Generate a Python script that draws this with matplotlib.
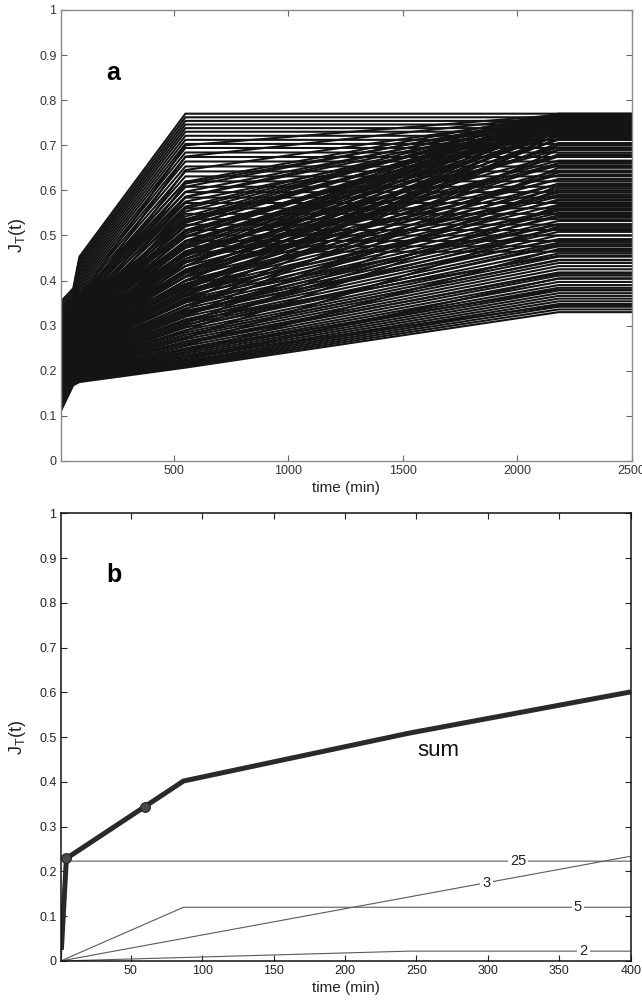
import matplotlib
matplotlib.use("Agg")
import matplotlib.pyplot as plt

plt.rcParams['font.family'] = ['Liberation Sans', 'DejaVu Sans']
plt.rcParams['mathtext.fontset'] = 'custom'
plt.rcParams['mathtext.rm'] = 'Liberation Sans'
plt.rcParams['mathtext.it'] = 'Liberation Sans:italic'

# ---------------- Panel a data ----------------
t_breaks = [5, 60, 87, 550, 2180, 2500]

# family A: saturate by 550 min
a_j5 = [0.353, 0.347, 0.341, 0.335, 0.329, 0.323, 0.317, 0.311, 0.305, 0.299, 0.293, 0.287, 0.281, 0.275, 0.269,
        0.263, 0.257, 0.251, 0.245, 0.239, 0.233, 0.227, 0.221, 0.215, 0.209, 0.203, 0.197, 0.191, 0.185, 0.179]
a_j60 = [0.383, 0.378, 0.372, 0.367, 0.362, 0.356, 0.351, 0.346, 0.340, 0.335, 0.330, 0.325, 0.320, 0.315, 0.310,
         0.305, 0.300, 0.295, 0.290, 0.285, 0.280, 0.275, 0.270, 0.265, 0.260, 0.255, 0.250, 0.246, 0.242, 0.238]
a_j87 = [0.453, 0.447, 0.441, 0.436, 0.430, 0.424, 0.418, 0.412, 0.406, 0.400, 0.394, 0.388, 0.382, 0.376, 0.370,
         0.364, 0.358, 0.352, 0.346, 0.340, 0.334, 0.328, 0.322, 0.316, 0.310, 0.304, 0.298, 0.292, 0.286, 0.280]
a_j550 = [0.770, 0.762, 0.754, 0.746, 0.738, 0.730, 0.721, 0.712, 0.703, 0.694, 0.684, 0.674, 0.664, 0.653, 0.642,
          0.631, 0.620, 0.608, 0.596, 0.584, 0.572, 0.560, 0.548, 0.536, 0.524, 0.512, 0.500, 0.488, 0.476, 0.464]
a_j2180 = [0.770, 0.762, 0.754, 0.746, 0.738, 0.730, 0.721, 0.712, 0.703, 0.694, 0.684, 0.674, 0.664, 0.653, 0.642,
           0.631, 0.620, 0.608, 0.596, 0.584, 0.572, 0.560, 0.548, 0.536, 0.524, 0.512, 0.500, 0.488, 0.476, 0.464]

# family B: climb to the ceiling at 2180 min
b_j5 = [0.330, 0.318, 0.300, 0.285, 0.270, 0.255, 0.240, 0.228, 0.215, 0.200, 0.190, 0.175, 0.160, 0.150]
b_j60 = [0.340, 0.328, 0.315, 0.300, 0.285, 0.270, 0.257, 0.250, 0.244, 0.238, 0.232, 0.226, 0.220, 0.214]
b_j87 = [0.360, 0.345, 0.330, 0.315, 0.300, 0.292, 0.284, 0.276, 0.268, 0.260, 0.252, 0.245, 0.238, 0.230]
b_j550 = [0.700, 0.675, 0.645, 0.615, 0.585, 0.560, 0.535, 0.510, 0.485, 0.460, 0.440, 0.420, 0.400, 0.380]
b_j2180 = [0.767, 0.765, 0.763, 0.760, 0.757, 0.754, 0.750, 0.746, 0.742, 0.738, 0.733, 0.728, 0.722, 0.716]

# family C: slow rise until 2180 min
c_j5 = [0.110, 0.125, 0.140, 0.155, 0.150, 0.165, 0.160, 0.175, 0.170, 0.180, 0.175, 0.185, 0.180, 0.190, 0.185,
        0.195, 0.190, 0.200, 0.195, 0.205, 0.200, 0.210, 0.205, 0.215, 0.210, 0.220, 0.215, 0.225, 0.220, 0.230,
        0.225, 0.235, 0.230, 0.240, 0.235, 0.245, 0.240, 0.250, 0.245, 0.255, 0.250, 0.260, 0.255, 0.265, 0.260, 0.270]
c_j60 = [0.168, 0.170, 0.172, 0.174, 0.176, 0.178, 0.180, 0.182, 0.184, 0.186, 0.188, 0.190, 0.192, 0.194, 0.196,
         0.198, 0.200, 0.202, 0.204, 0.206, 0.208, 0.211, 0.214, 0.217, 0.220, 0.223, 0.226, 0.229, 0.232, 0.235,
         0.238, 0.241, 0.244, 0.247, 0.250, 0.253, 0.256, 0.259, 0.262, 0.265, 0.268, 0.271, 0.274, 0.277, 0.280, 0.283]
c_j87 = [0.175, 0.177, 0.179, 0.181, 0.183, 0.185, 0.187, 0.189, 0.191, 0.193, 0.195, 0.197, 0.199, 0.201, 0.203,
         0.205, 0.207, 0.209, 0.211, 0.213, 0.215, 0.218, 0.221, 0.224, 0.227, 0.230, 0.233, 0.236, 0.239, 0.242,
         0.245, 0.248, 0.251, 0.254, 0.257, 0.260, 0.263, 0.266, 0.269, 0.272, 0.275, 0.278, 0.281, 0.284, 0.287, 0.290]
c_j550 = [0.207, 0.210, 0.213, 0.216, 0.219, 0.222, 0.226, 0.230, 0.234, 0.238, 0.242, 0.246, 0.250, 0.255, 0.260,
          0.265, 0.270, 0.275, 0.280, 0.285, 0.290, 0.296, 0.302, 0.308, 0.314, 0.320, 0.326, 0.332, 0.338, 0.344,
          0.351, 0.358, 0.365, 0.372, 0.379, 0.386, 0.393, 0.400, 0.408, 0.416, 0.424, 0.432, 0.440, 0.448, 0.456, 0.464]
c_j2180 = [0.330, 0.336, 0.342, 0.348, 0.354, 0.360, 0.366, 0.372, 0.378, 0.384, 0.390, 0.397, 0.404, 0.411, 0.418,
           0.425, 0.432, 0.439, 0.446, 0.453, 0.460, 0.468, 0.476, 0.484, 0.492, 0.500, 0.508, 0.516, 0.524, 0.532,
           0.541, 0.550, 0.559, 0.568, 0.577, 0.586, 0.595, 0.604, 0.614, 0.624, 0.634, 0.644, 0.655, 0.666, 0.678, 0.690]

# family D: crossing lines with mixed late growth
d_j5 = [0.120, 0.166, 0.130, 0.174, 0.140, 0.182, 0.150, 0.190, 0.160, 0.198, 0.170, 0.206, 0.180, 0.214, 0.190,
        0.222, 0.200, 0.230, 0.210, 0.238, 0.220, 0.246, 0.230, 0.254, 0.240, 0.262, 0.250, 0.270, 0.260, 0.278,
        0.270, 0.286, 0.280, 0.294, 0.290, 0.302, 0.300, 0.310, 0.310, 0.318]
d_j60 = [0.172, 0.176, 0.180, 0.184, 0.188, 0.192, 0.196, 0.200, 0.204, 0.208, 0.212, 0.216, 0.220, 0.224, 0.228,
         0.232, 0.236, 0.240, 0.244, 0.248, 0.252, 0.256, 0.260, 0.264, 0.268, 0.272, 0.276, 0.280, 0.284, 0.288,
         0.292, 0.296, 0.300, 0.304, 0.308, 0.312, 0.316, 0.320, 0.324, 0.328]
d_j87 = [0.180, 0.184, 0.188, 0.192, 0.196, 0.200, 0.204, 0.208, 0.212, 0.216, 0.220, 0.224, 0.228, 0.232, 0.236,
         0.240, 0.244, 0.248, 0.252, 0.256, 0.260, 0.264, 0.268, 0.272, 0.276, 0.280, 0.284, 0.288, 0.292, 0.296,
         0.300, 0.304, 0.308, 0.312, 0.316, 0.320, 0.324, 0.328, 0.332, 0.336]
d_j550 = [0.225, 0.232, 0.240, 0.248, 0.256, 0.264, 0.272, 0.280, 0.288, 0.296, 0.304, 0.312, 0.320, 0.328, 0.336,
          0.344, 0.352, 0.360, 0.368, 0.376, 0.384, 0.392, 0.400, 0.408, 0.416, 0.424, 0.432, 0.440, 0.448, 0.456,
          0.464, 0.472, 0.480, 0.488, 0.496, 0.504, 0.512, 0.520, 0.528, 0.536]
d_j2180 = [0.405, 0.345, 0.470, 0.380, 0.520, 0.415, 0.565, 0.445, 0.610, 0.480, 0.650, 0.515, 0.690, 0.545, 0.725,
           0.580, 0.745, 0.615, 0.760, 0.640, 0.705, 0.660, 0.735, 0.675, 0.752, 0.700, 0.762, 0.712, 0.766, 0.730,
           0.755, 0.742, 0.768, 0.748, 0.758, 0.763, 0.740, 0.766, 0.756, 0.769]

# family E: mid-level lines still rising after 550 min
e_j5 = [0.140, 0.200, 0.150, 0.210, 0.160, 0.220, 0.170, 0.230, 0.180, 0.240, 0.190, 0.250, 0.200, 0.260, 0.210,
        0.270, 0.220, 0.280, 0.230, 0.290, 0.240, 0.300, 0.250, 0.305, 0.260, 0.320, 0.270, 0.330, 0.280, 0.340]
e_j60 = [0.210, 0.215, 0.220, 0.225, 0.230, 0.235, 0.240, 0.245, 0.250, 0.255, 0.260, 0.265, 0.270, 0.275, 0.280,
         0.285, 0.290, 0.295, 0.300, 0.305, 0.310, 0.315, 0.320, 0.325, 0.330, 0.335, 0.340, 0.345, 0.350, 0.355]
e_j87 = [0.220, 0.225, 0.230, 0.235, 0.240, 0.245, 0.250, 0.255, 0.260, 0.265, 0.270, 0.275, 0.280, 0.285, 0.290,
         0.295, 0.300, 0.305, 0.310, 0.315, 0.320, 0.325, 0.330, 0.335, 0.340, 0.345, 0.350, 0.355, 0.360, 0.365]
e_j550 = [0.300, 0.311, 0.322, 0.333, 0.344, 0.355, 0.366, 0.377, 0.388, 0.399, 0.410, 0.421, 0.432, 0.443, 0.454,
          0.465, 0.476, 0.487, 0.498, 0.509, 0.520, 0.531, 0.542, 0.553, 0.564, 0.575, 0.586, 0.597, 0.608, 0.619]
e_j2180 = [0.560, 0.455, 0.600, 0.490, 0.640, 0.525, 0.680, 0.555, 0.715, 0.590, 0.740, 0.625, 0.758, 0.660, 0.765,
           0.695, 0.750, 0.720, 0.767, 0.735, 0.761, 0.748, 0.769, 0.755, 0.764, 0.744, 0.768, 0.760, 0.766, 0.770]

# ---------------- Panel b data ----------------
sum_t = [1.5, 5, 60, 87, 245, 400]
sum_y = [0.025, 0.229, 0.345, 0.402, 0.509, 0.601]
marker_t = [5, 60]
marker_y = [0.229, 0.345]

comp25_t = [1.5, 4, 400]
comp25_y = [0.0, 0.223, 0.223]
comp5_t = [1, 87, 400]
comp5_y = [0.0, 0.120, 0.120]
comp3_t = [1, 400]
comp3_y = [0.0, 0.234]
comp2_t = [1, 245, 400]
comp2_y = [0.0, 0.022, 0.022]

comp_labels = ['25', '3', '5', '2']
comp_label_t = [321, 299, 363, 367]
comp_label_y = [0.223, 0.175, 0.120, 0.022]

yticks = [0, 0.1, 0.2, 0.3, 0.4, 0.5, 0.6, 0.7, 0.8, 0.9, 1.0]
ytick_labels = ['0', '0.1', '0.2', '0.3', '0.4', '0.5', '0.6', '0.7', '0.8', '0.9', '1']
xticks_a = [500, 1000, 1500, 2000, 2500]
xticks_b = [50, 100, 150, 200, 250, 300, 350, 400]

fig = plt.figure(figsize=(6.42, 10.05), dpi=100)
ax1 = fig.add_axes([0.0945, 0.5413, 0.8895, 0.4488])
ax2 = fig.add_axes([0.0945, 0.0438, 0.888, 0.4455])

families = [(a_j5, a_j60, a_j87, a_j550, a_j2180),
            (b_j5, b_j60, b_j87, b_j550, b_j2180),
            (c_j5, c_j60, c_j87, c_j550, c_j2180),
            (d_j5, d_j60, d_j87, d_j550, d_j2180),
            (e_j5, e_j60, e_j87, e_j550, e_j2180)]
for f5, f60, f87, f550, f2180 in families:
    for i in range(len(f5)):
        ys = [f5[i], f60[i], f87[i], f550[i], f2180[i], f2180[i]]
        ax1.plot(t_breaks, ys, color='#141414', lw=1.5, solid_joinstyle='miter')

ax1.set_xlim(5, 2500)
ax1.set_ylim(0, 1)
ax1.set_xticks(xticks_a)
ax1.set_xticklabels([str(v) for v in xticks_a])
ax1.set_yticks(yticks)
ax1.set_yticklabels(ytick_labels)
ax1.text(0.0916, 0.86, 'a', transform=ax1.transAxes, fontsize=18, fontweight='bold',
         ha='center', va='center')
ax1.set_xlabel('time (min)', fontsize=11, labelpad=3, color='#222222')
ax1.set_ylabel(r'$\mathrm{J_T(t)}$', fontsize=13, labelpad=8, color='#222222')
for sp in ax1.spines.values():
    sp.set_color('#8a8a8a')
    sp.set_linewidth(1.0)
ax1.tick_params(direction='in', top=True, right=True, length=4, width=0.8,
                colors='#666666', labelcolor='#333333', labelsize=9, pad=3)

# panel b
for tt, yy in [(comp25_t, comp25_y), (comp5_t, comp5_y), (comp3_t, comp3_y), (comp2_t, comp2_y)]:
    ax2.plot(tt, yy, color='#5a5a5a', lw=0.8)
ax2.plot(sum_t, sum_y, color='#2a2a2a', lw=3.6, solid_joinstyle='miter', solid_capstyle='butt')
ax2.plot(marker_t, marker_y, 'o', color='#4a4a4a', markeredgecolor='#222222', markersize=7, mew=0.8)

for lab, lt, ly in zip(comp_labels, comp_label_t, comp_label_y):
    ax2.text(lt, ly, lab, fontsize=10.5, ha='center', va='center', color='#222222',
             bbox=dict(boxstyle='square,pad=0.15', fc='white', ec='none'))
ax2.text(265, 0.47, 'sum', fontsize=16, ha='center', va='center', color='#111111')
ax2.text(0.0935, 0.862, 'b', transform=ax2.transAxes, fontsize=18, fontweight='bold',
         ha='center', va='center')

ax2.set_xlim(1, 400)
ax2.set_ylim(0, 1)
ax2.set_xticks(xticks_b)
ax2.set_xticklabels([str(v) for v in xticks_b])
ax2.set_yticks(yticks)
ax2.set_yticklabels(ytick_labels)
ax2.set_xlabel('time (min)', fontsize=11, labelpad=3, color='#222222')
ax2.set_ylabel(r'$\mathrm{J_T(t)}$', fontsize=13, labelpad=8, color='#222222')
for sp in ax2.spines.values():
    sp.set_color('#111111')
    sp.set_linewidth(1.1)
ax2.tick_params(direction='in', top=True, right=True, length=4, width=0.8,
                colors='#222222', labelsize=9, pad=3)

fig.savefig('out.png', dpi=100)
